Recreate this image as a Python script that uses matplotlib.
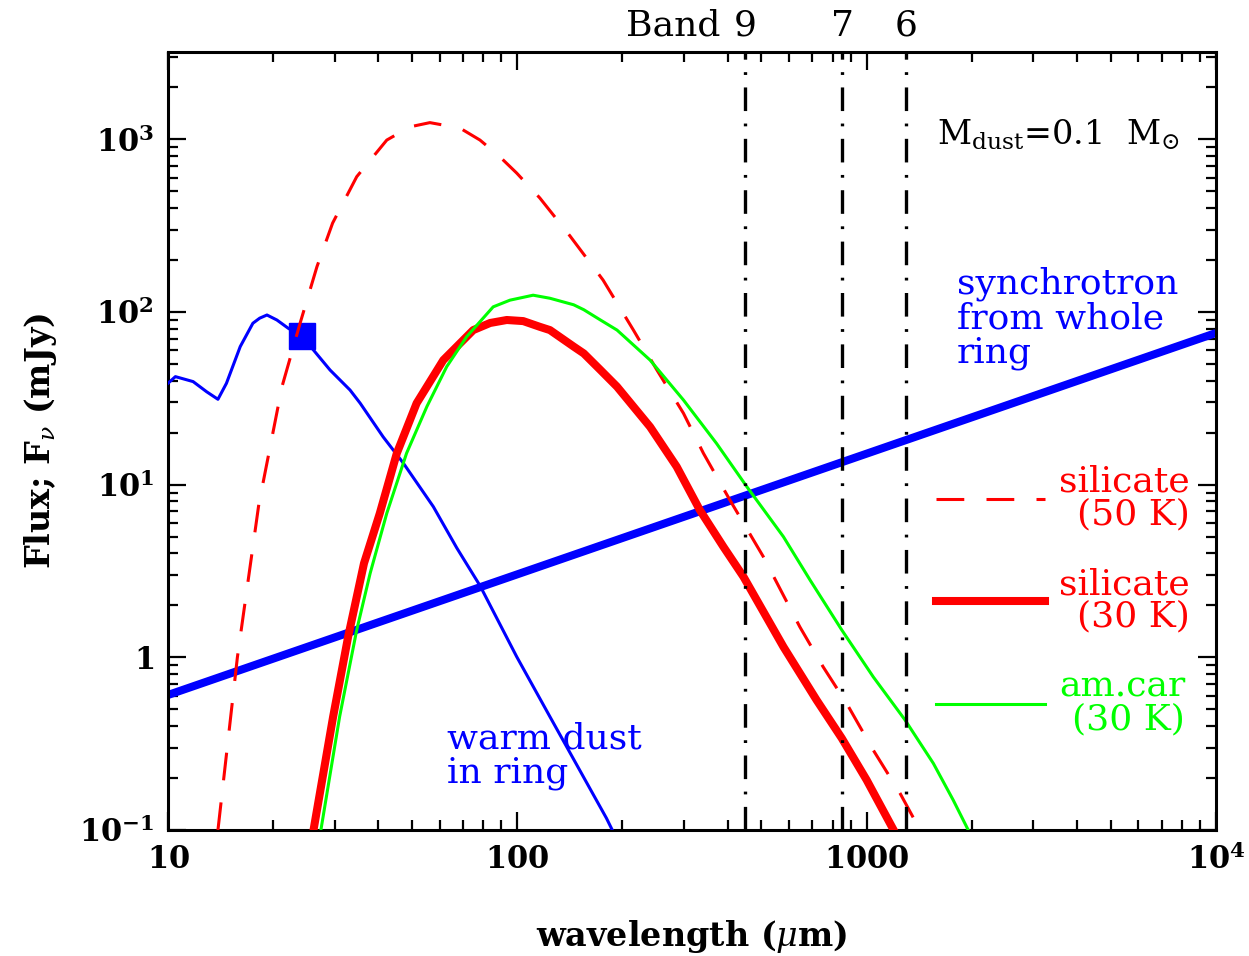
import matplotlib
matplotlib.use("Agg")
import matplotlib.pyplot as plt
from matplotlib.ticker import FixedLocator, NullFormatter, LogLocator

plt.rcParams['font.family'] = 'DejaVu Serif'
plt.rcParams['mathtext.fontset'] = 'dejavuserif'
plt.rcParams['lines.scale_dashes'] = False

# model SEDs, wavelength in micron, flux in mJy
sync_wl = [10, 1e4]
sync_f = [0.605, 75.5]

warm_wl = [10.0, 10.5, 11.8, 12.9, 13.9, 14.7, 16.1, 17.5, 18.3, 19.2, 20.5, 22.1, 24.2,
           26.1, 29.1, 33.2, 35.5, 41.3, 47.2, 57.5, 67.1, 78.2, 99.6, 124, 180, 187]
warm_f = [38.6, 42.2, 39.5, 34.5, 31.2, 38.6, 63, 86, 92, 96, 89.8, 80.4, 72.4,
          60.1, 46.1, 35.3, 29.6, 18.9, 13.3, 7.45, 4.3, 2.6, 1.008, 0.453, 0.117, 0.1]

# MIPS 24 micron point
mips_wl = [24.2]
mips_f = [72.4]

sil50_wl = [13.9, 15.8, 18.2, 21.2, 23.9, 26.7, 29.6, 34.7, 42.3, 49.3, 56.2, 68.5,
            78.2, 89.1, 99.6, 116, 141.6, 176, 215, 251, 299, 341, 406, 506, 644, 751,
            877, 1045, 1247, 1422]
sil50_f = [0.1, 1.0, 7.7, 36.9, 86.3, 183, 327, 607, 989, 1180, 1248, 1161,
           989, 792, 637, 457, 275, 153, 78.5, 46.1, 25.9, 15.2, 8.15, 3.83, 1.50, 0.88,
           0.54, 0.29, 0.163, 0.1]

sil30_wl = [26.1, 29.7, 32.8, 36.4, 40.4, 45.2, 51.5, 61.4, 74.8, 83.6, 93.3, 104, 116,
            124, 145, 155, 173, 193, 240, 286, 333, 389, 444, 578, 719, 849, 1000, 1195]
sil30_f = [0.1, 0.453, 1.32, 3.5, 6.82, 15.2, 29.6, 52.6, 78.5, 86.3, 89.8, 88.5, 82,
           78.5, 63, 57.5, 46.1, 36.9, 21.6, 12.7, 7.13, 4.37, 2.93, 1.15, 0.566, 0.34, 0.195, 0.1]

amc_wl = [27.4, 31.0, 34.7, 37.9, 42.3, 48.2, 55.1, 62.8, 71.6, 85.3, 95.3, 111, 124, 145,
          155, 173, 193, 240, 299, 372, 454, 578, 689, 849, 1045, 1288, 1553, 1770, 1954]
amc_f = [0.1, 0.453, 1.44, 3.06, 6.82, 15.2, 28.3, 48.2, 71.8, 107, 117, 125, 120, 110,
         103, 89.8, 78.5, 52.6, 30.9, 17.3, 9.73, 4.99, 2.8, 1.44, 0.77, 0.434, 0.243, 0.149, 0.1]

# ALMA bands
band_wl = [450, 850, 1300]
band_names = ['9', '7', '6']

xticks = [10, 100, 1000, 1e4]
xtick_labels = [r'$\mathbf{10}$', r'$\mathbf{100}$', r'$\mathbf{1000}$', r'$\mathbf{10^{4}}$']
yticks = [0.1, 1, 10, 100, 1000]
ytick_labels = [r'$\mathbf{10^{-1}}$', r'$\mathbf{1}$', r'$\mathbf{10^{1}}$',
                r'$\mathbf{10^{2}}$', r'$\mathbf{10^{3}}$']

RED = '#ff0000'
GREEN = '#00ff00'
BLUE = '#0000ff'

fig = plt.figure(figsize=(12.49, 9.56), dpi=100)
ax = fig.add_axes([0.1345, 0.1318, 0.839, 0.8138])
ax.set_xscale('log')
ax.set_yscale('log')
ax.set_xlim(10, 1e4)
ax.set_ylim(0.1, 3200)

ax.plot(sync_wl, sync_f, color=BLUE, lw=5.8, solid_capstyle='butt', zorder=2)
ax.plot(warm_wl, warm_f, color=BLUE, lw=2.2, zorder=3)
ax.plot(mips_wl, mips_f, 's', color=BLUE, ms=19, zorder=4)
ax.plot(sil50_wl, sil50_f, color=RED, lw=2.2, ls=(0, (20, 16)), zorder=4,
        label='silicate\n(50 K)')
ax.plot(sil30_wl, sil30_f, color=RED, lw=5.8, zorder=5, label='silicate\n(30 K)')
ax.plot(amc_wl, amc_f, color=GREEN, lw=2.2, zorder=6, label='am.car\n(30 K)')

for wl, name in zip(band_wl, band_names):
    ax.axvline(wl, color='black', lw=2.4, ls=(0, (17, 9, 2, 9)), zorder=7)
    ax.text(wl, 1.021, name, transform=ax.get_xaxis_transform(),
            ha='center', va='baseline', fontsize=26)
ax.annotate('Band', xy=(band_wl[0], 1.021), xycoords=ax.get_xaxis_transform(),
            xytext=(-18, 0), textcoords='offset points',
            ha='right', va='baseline', fontsize=26)

# axis styling
for sp in ax.spines.values():
    sp.set_linewidth(2.2)
ax.xaxis.set_major_locator(FixedLocator(xticks))
ax.set_xticklabels(xtick_labels)
ax.yaxis.set_major_locator(FixedLocator(yticks))
ax.set_yticklabels(ytick_labels)
ax.xaxis.set_minor_locator(LogLocator(base=10, subs=range(2, 10)))
ax.yaxis.set_minor_locator(LogLocator(base=10, subs=range(2, 10)))
ax.xaxis.set_minor_formatter(NullFormatter())
ax.yaxis.set_minor_formatter(NullFormatter())
ax.tick_params(which='both', direction='in', top=True, right=True, width=1.6)
ax.tick_params(which='major', length=13, labelsize=22, pad=10)
ax.tick_params(which='minor', length=7)

ax.set_xlabel(r'wavelength ($\mu$m)', fontsize=24, fontweight='bold', labelpad=30)
ax.set_ylabel(r'Flux; F$_{\nu}$ (mJy)', fontsize=24, fontweight='bold', labelpad=14)

# labels on the curves
ax.text(63, 0.27, 'warm dust\nin ring', color=BLUE, fontsize=26,
        ha='left', va='center', linespacing=1.0)
ax.text(1815, 92, 'synchrotron\nfrom whole\nring', color=BLUE, fontsize=26,
        ha='left', va='center', linespacing=1.0)
ax.text(1590, 1057, r'M$_{\rm dust}$=0.1  M$_{\odot}$', fontsize=24,
        ha='left', va='center')

leg = ax.legend(loc='upper right', bbox_to_anchor=(0.975, 0.47), frameon=False,
                fontsize=26, handlelength=3.0, handletextpad=0.4,
                labelspacing=1.0, borderpad=0, borderaxespad=0,
                labelcolor='linecolor')
for t in leg.get_texts():
    t.set_multialignment('right')
    t.set_linespacing(0.95)

fig.savefig('out.png', dpi=100)
plt.close(fig)
